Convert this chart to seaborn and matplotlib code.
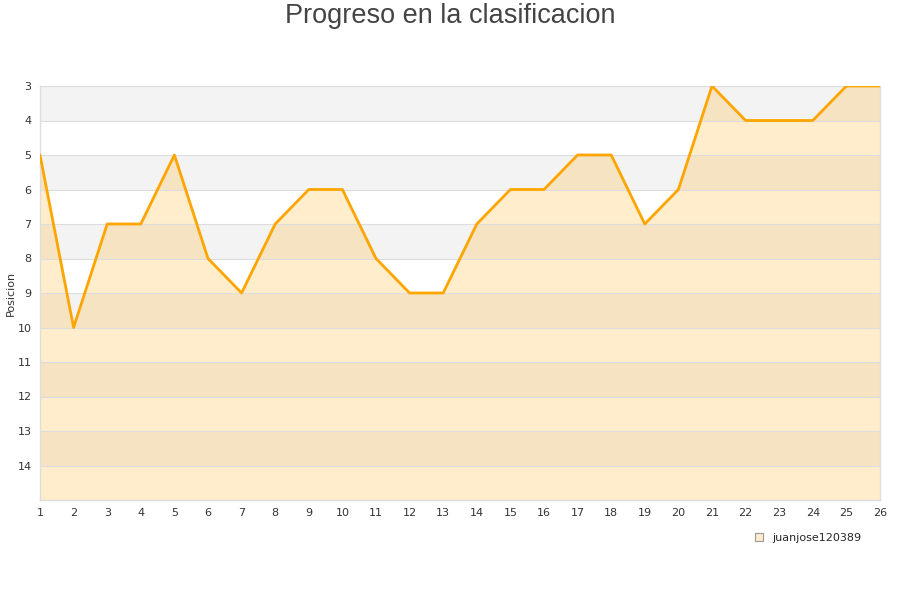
import matplotlib
matplotlib.use("Agg")
import matplotlib.pyplot as plt
import seaborn as sns
import pandas as pd
from matplotlib.patches import Patch

jornadas = list(range(1, 27))
posiciones = [5, 10, 7, 7, 5, 8, 9, 7, 6, 6, 8, 9, 9, 7, 6, 6, 5, 5, 7, 6, 3, 4, 4, 4, 3, 3]
jugador = "juanjose120389"
y_ticks = list(range(3, 15))

df = pd.DataFrame({"Jornada": jornadas, "Posicion": posiciones})

sns.set_style("white")
plt.rcParams['font.family'] = ['DejaVu Sans']

fig = plt.figure(figsize=(9, 6), dpi=100)
ax = fig.add_axes([40/900, 1-500/600, 840/900, 414/600])

ymin, ymax = 3, 15
for i, y in enumerate(range(ymin, ymax)):
    if i % 2 == 0:
        ax.axhspan(y, y + 1, color="#f3f3f3", lw=0, zorder=0)

ax.fill_between(df["Jornada"], df["Posicion"], ymax, color="#FFA500", alpha=0.2, lw=0, zorder=1)
for y in range(ymin, ymax):
    ax.axhline(y, color="#dddddd", lw=0.8, zorder=2)
sns.lineplot(data=df, x="Jornada", y="Posicion", ax=ax, color="#FFA500", lw=2, zorder=3)

ax.set_xlim(1, 26)
ax.set_ylim(ymax, ymin)
ax.set_xticks(jornadas)
ax.set_yticks(y_ticks)
ax.tick_params(axis="both", labelsize=8, colors="#333333", length=0, pad=6)
ax.set_xlabel("")
ax.set_ylabel("")
for s in ["left", "bottom", "right", "top"]:
    ax.spines[s].set_color("#dddddd")
    ax.spines[s].set_linewidth(1)
ax.spines["top"].set_visible(False)

fig.text(11/900, 1 - 293/600, "Posicion", rotation=90, ha="center", va="center",
         fontsize=8, color="#333333")

fig.text(0.5, 1 - 16/600, "Progreso en la clasificacion", ha="center", va="center",
         fontsize=19.5, color="#444444", family=["Liberation Sans", "DejaVu Sans"])

handle = Patch(facecolor="#feedcc", edgecolor="#999999", lw=0.8)
fig.legend([handle], [jugador], loc="center", bbox_to_anchor=(808/900, 1 - 538/600),
           frameon=False, fontsize=8, handlelength=0.8, handleheight=0.8, handletextpad=0.8)

fig.savefig("out.png", dpi=100)
